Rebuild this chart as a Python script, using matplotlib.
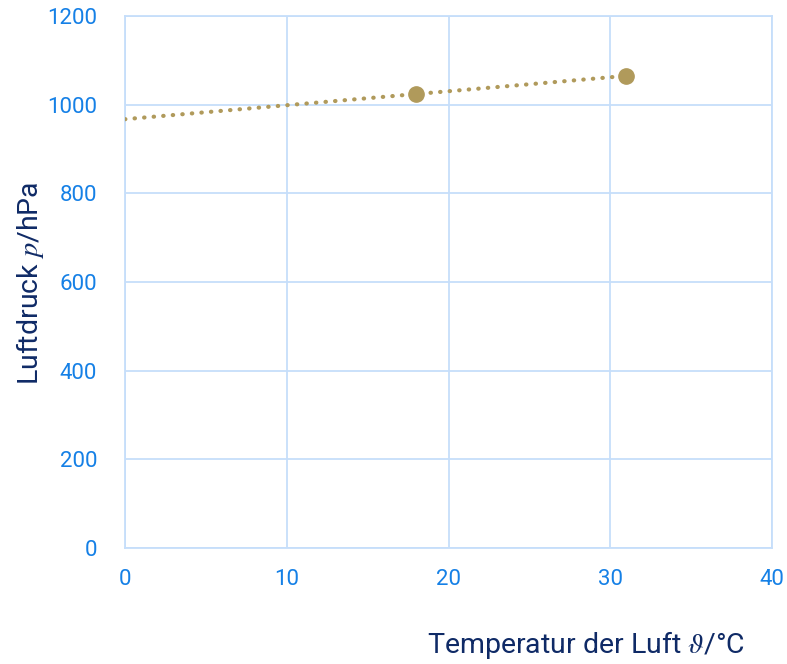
import matplotlib
matplotlib.use("Agg")
import matplotlib.pyplot as plt
import numpy as np

temps = [18, 31]
pressures = [1024, 1065]
x_ticks = [0, 10, 20, 30, 40]
y_ticks = [0, 200, 400, 600, 800, 1000, 1200]

plt.rcParams['font.family'] = ['Roboto', 'DejaVu Sans']
plt.rcParams['mathtext.fontset'] = 'stix'

tick_color = '#1580e6'
label_color = '#0f2a66'
grid_color = '#c6defa'
mark_color = '#b09a5b'

fig = plt.figure(figsize=(7.87, 6.64), dpi=100)
ax = fig.add_axes([125/787, 1-548/664, (772-125)/787, (548-16)/664])

# linear trend line from x=0 to last data point
coef = np.polyfit(temps, pressures, 1)
xt = np.array([0, temps[-1]])
ax.plot(xt, np.polyval(coef, xt), linestyle=(0, (0.1, 2.2)), dash_capstyle='round',
        color=mark_color, linewidth=3, zorder=3)
ax.plot(temps, pressures, 'o', color=mark_color, markersize=11, zorder=4)

ax.set_xlim(0, 40)
ax.set_ylim(0, 1200)
ax.set_xticks(x_ticks)
ax.set_yticks(y_ticks)
ax.grid(True, color=grid_color, linewidth=1.3)
ax.set_axisbelow(True)
for s in ax.spines.values():
    s.set_color(grid_color)
    s.set_linewidth(1.3)
ax.tick_params(length=0, colors=tick_color, labelsize=16)
ax.tick_params(axis='x', pad=15)
ax.tick_params(axis='y', pad=20)

fig.text(745/787, 1-645/664, r'Temperatur der Luft $\vartheta$/°C', ha='right', va='center',
         color=label_color, fontsize=20.5)
fig.text(30/787, 1-283/664, r'Luftdruck $p$/hPa', ha='center', va='center', rotation=90,
         color=label_color, fontsize=20.5)

fig.savefig('out.png', dpi=100)
